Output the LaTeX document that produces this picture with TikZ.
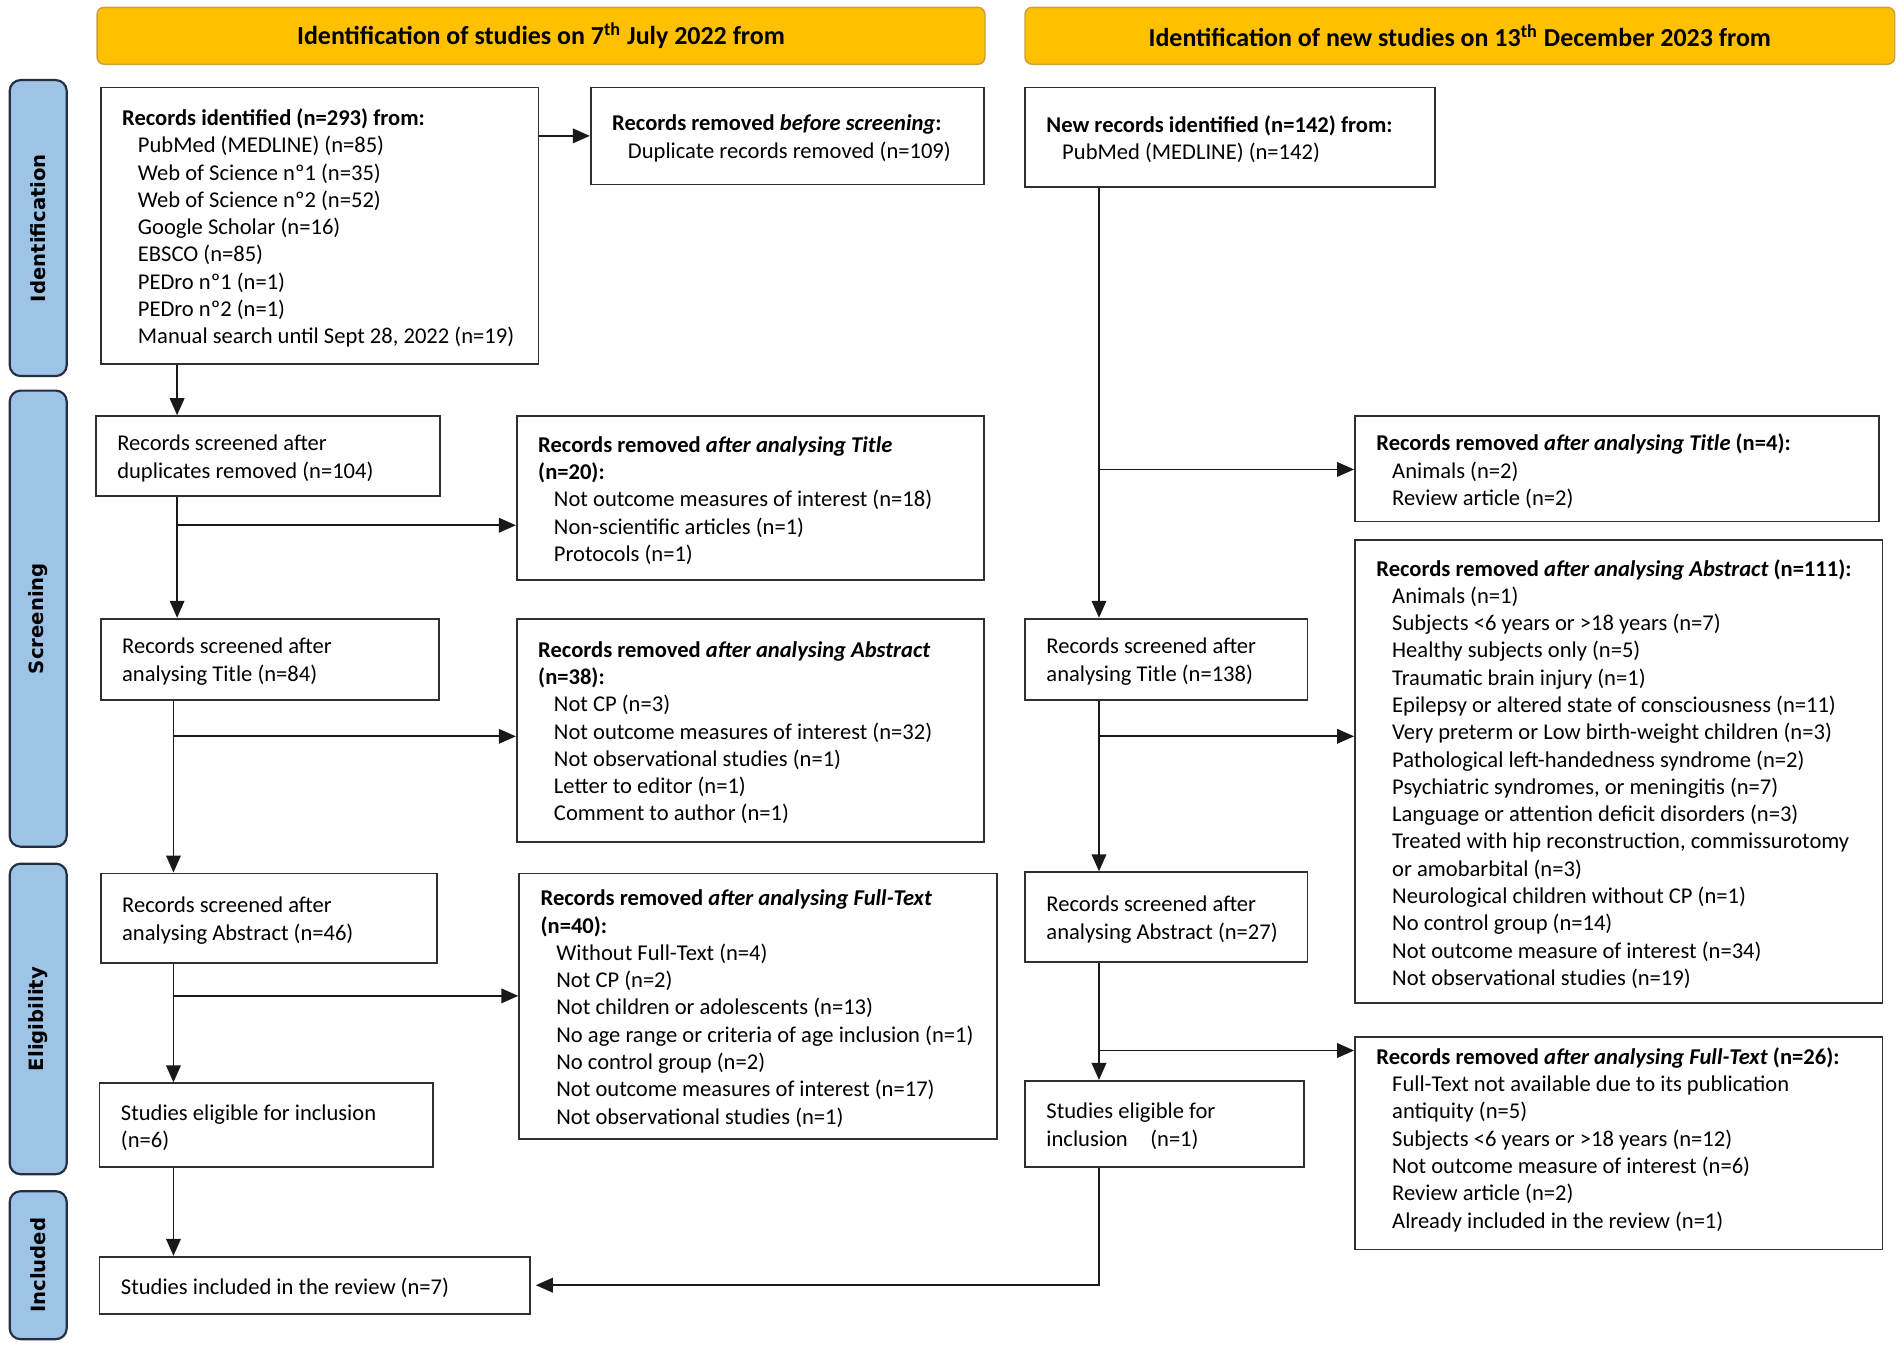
\documentclass[tikz,border=0pt]{standalone}
\usepackage{fontspec}
\usepackage{graphicx}
\setmainfont{Carlito}
\newfontfamily\phasefont{DejaVu Sans}
\usetikzlibrary{arrows.meta,fit}
\definecolor{hdrfill}{HTML}{FFC000}
\definecolor{hdrdraw}{HTML}{C9A13B}
\definecolor{phfill}{HTML}{9DC3E6}
\definecolor{phdraw}{HTML}{243040}
\definecolor{boxdraw}{HTML}{303030}
\newcommand\ind{\hspace*{6.5pt}}
\begin{document}
\begin{tikzpicture}[x=0.5pt,y=-0.5pt,
  box/.style={draw=boxdraw, line width=0.7pt, inner sep=0pt},
  hdr/.style={draw=hdrdraw, fill=hdrfill, rounded corners=3pt, line width=0.6pt, inner sep=0pt},
  phase/.style={draw=phdraw, fill=phfill, rounded corners=4.5pt, line width=0.9pt, inner sep=0pt},
  phtxt/.style={rotate=90, inner sep=0pt, font=\phasefont\bfseries\fontsize{8.1}{10}\selectfont},
  hdrtxt/.style={inner sep=0pt, font=\bfseries\fontsize{10.7}{13}\selectfont},
  txt/.style={anchor=west, align=left, inner sep=0pt, xshift=9pt, yshift=-1pt, font=\fontsize{9.3}{11.25}\selectfont},
  arr/.style={draw=black!90, line width=0.7pt, -{Triangle[length=7pt,width=6pt]}}]
\useasboundingbox (0,0) rectangle (1568,1110.6);

% headers
\node[hdr, fit={(80,6) (812,53)}] (H1) {};
\node[hdrtxt] (H1t) at (H1.center) {Identification of studies on 7\textsuperscript{th} July 2022 from};
\node[hdr, fit={(845,6) (1562,53)}] (H2) {};
\node[hdrtxt] (H2t) at (H2.center) {Identification of new studies on 13\textsuperscript{th} December 2023 from};

% phases
\node[phase, fit={(8,66) (55,310)}] (P1) {};
\node[phtxt] (P1t) at (P1.center) {Identification};
\node[phase, fit={(8,322) (55,698)}] (P2) {};
\node[phtxt] (P2t) at (P2.center) {Screening};
\node[phase, fit={(8,712) (55,968)}] (P3) {};
\node[phtxt] (P3t) at (P3.center) {Eligibility};
\node[phase, fit={(8,982) (55,1104)}] (P4) {};
\node[phtxt] (P4t) at (P4.center) {Included};

% left column boxes
\node[box, fit={(83,72) (444,300)}] (A) {};
\node[txt] (At) at (A.west) {\textbf{Records identified (n=293) from:}\\
\ind PubMed (MEDLINE) (n=85)\\
\ind Web of Science nº1 (n=35)\\
\ind Web of Science nº2 (n=52)\\
\ind Google Scholar (n=16)\\
\ind EBSCO (n=85)\\
\ind PEDro nº1 (n=1)\\
\ind PEDro nº2 (n=1)\\
\ind Manual search until Sept 28, 2022 (n=19)};

\node[box, fit={(487,72) (811,152)}] (B) {};
\node[txt] (Bt) at (B.west) {\textbf{Records removed \textit{before screening}:}\\
\ind Duplicate records removed (n=109)};

\node[box, fit={(79,343) (363,409)}] (C) {};
\node[txt] (Ct) at (C.west) {Records screened after\\duplicates removed (n=104)};

\node[box, fit={(426,343) (811,478)}] (D) {};
\node[txt] (Dt) at (D.west) {\textbf{Records removed \textit{after analysing Title}}\\
\textbf{(n=20):}\\
\ind Not outcome measures of interest (n=18)\\
\ind Non-scientific articles (n=1)\\
\ind Protocols (n=1)};

\node[box, fit={(83,510) (362,577)}] (E) {};
\node[txt] (Et) at (E.west) {Records screened after\\analysing Title (n=84)};

\node[box, fit={(426,510) (811,694)}] (F) {};
\node[txt] (Ft) at (F.west) {\textbf{Records removed \textit{after analysing Abstract}}\\
\textbf{(n=38):}\\
\ind Not CP (n=3)\\
\ind Not outcome measures of interest (n=32)\\
\ind Not observational studies (n=1)\\
\ind Letter to editor (n=1)\\
\ind Comment to author (n=1)};

\node[box, fit={(83,720) (360,794)}] (G) {};
\node[txt] (Gt) at (G.west) {Records screened after\\analysing Abstract (n=46)};

\node[box, fit={(428,720) (822,939)}] (H) {};
\node[txt] (Ht) at (H.west) {\textbf{Records removed \textit{after analysing Full-Text}}\\
\textbf{(n=40):}\\
\ind Without Full-Text (n=4)\\
\ind Not CP (n=2)\\
\ind Not children or adolescents (n=13)\\
\ind No age range or criteria of age inclusion (n=1)\\
\ind No control group (n=2)\\
\ind Not outcome measures of interest (n=17)\\
\ind Not observational studies (n=1)};

\node[box, fit={(82,893) (357,962)}] (I) {};
\node[txt] (It) at (I.west) {Studies eligible for inclusion\\(n=6)};

\node[box, fit={(82,1036) (437,1083)}] (J) {};
\node[txt] (Jt) at (J.west) {Studies included in the review (n=7)};

% right column boxes
\node[box, fit={(845,72) (1183,154)}] (K) {};
\node[txt] (Kt) at (K.west) {\textbf{New records identified (n=142) from:}\\
\ind PubMed (MEDLINE) (n=142)};

\node[box, fit={(1117,343) (1549,430)}] (L) {};
\node[txt] (Lt) at (L.west) {\textbf{Records removed \textit{after analysing Title} (n=4):}\\
\ind Animals (n=2)\\
\ind Review article (n=2)};

\node[box, fit={(1117,445) (1552,827)}] (M) {};
\node[txt] (Mt) at (M.west) {\textbf{Records removed \textit{after analysing Abstract} (n=111):}\\
\ind Animals (n=1)\\
\ind Subjects <6 years or >18 years (n=7)\\
\ind Healthy subjects only (n=5)\\
\ind Traumatic brain injury (n=1)\\
\ind Epilepsy or altered state of consciousness (n=11)\\
\ind Very preterm or Low birth-weight children (n=3)\\
\ind Pathological left-handedness syndrome (n=2)\\
\ind Psychiatric syndromes, or meningitis (n=7)\\
\ind Language or attention deficit disorders (n=3)\\
\ind Treated with hip reconstruction, commissurotomy\\
\ind or amobarbital (n=3)\\
\ind Neurological children without CP (n=1)\\
\ind No control group (n=14)\\
\ind Not outcome measure of interest (n=34)\\
\ind Not observational studies (n=19)};

\node[box, fit={(845,510) (1078,577)}] (N) {};
\node[txt] (Nt) at (N.west) {Records screened after\\analysing Title (n=138)};

\node[box, fit={(845,719) (1078,793)}] (O) {};
\node[txt] (Ot) at (O.west) {Records screened after\\analysing Abstract (n=27)};

\node[box, fit={(1117,855) (1552,1030)}] (P) {};
\node[txt, yshift=2.5pt] (Pt) at (P.west) {\textbf{Records removed \textit{after analysing Full-Text} (n=26):}\\
\ind Full-Text not available due to its publication\\
\ind antiquity (n=5)\\
\ind Subjects <6 years or >18 years (n=12)\\
\ind Not outcome measure of interest (n=6)\\
\ind Review article (n=2)\\
\ind Already included in the review (n=1)};

\node[box, fit={(845,891) (1075,962)}] (Q) {};
\node[txt] (Qt) at (Q.west) {Studies eligible for\\inclusion\quad(n=1)};

% connector columns
\coordinate (cL1) at (146,0);
\coordinate (cL2) at (143,0);
\coordinate (cR) at (906,0);
\coordinate (b1) at (146,433);
\coordinate (b2) at (143,607);
\coordinate (b3) at (143,821);
\coordinate (b4) at (906,387);
\coordinate (b5) at (906,607);
\coordinate (b6) at (906,866);

% left connectors
\draw[arr] (A.east |- B.west) -- (B.west);
\draw[arr] (A.south -| cL1) -- (C.north -| cL1);
\draw[arr] (C.south -| cL1) -- (E.north -| cL1);
\draw[arr] (b1) -- (b1 -| D.west);
\draw[arr] (E.south -| cL2) -- (G.north -| cL2);
\draw[arr] (b2) -- (b2 -| F.west);
\draw[arr] (G.south -| cL2) -- (I.north -| cL2);
\draw[arr] (b3) -- (b3 -| H.west);
\draw[arr] (I.south -| cL2) -- (J.north -| cL2);

% right connectors
\draw[arr] (K.south -| cR) -- (N.north -| cR);
\draw[arr] (b4) -- (b4 -| L.west);
\draw[arr] (N.south -| cR) -- (O.north -| cR);
\draw[arr] (b5) -- (b5 -| M.west);
\draw[arr] (O.south -| cR) -- (Q.north -| cR);
\draw[arr] (b6) -- (b6 -| P.west);
\draw[arr, shorten >=2pt] (Q.south -| cR) |- (J.east);
\end{tikzpicture}
\end{document}
